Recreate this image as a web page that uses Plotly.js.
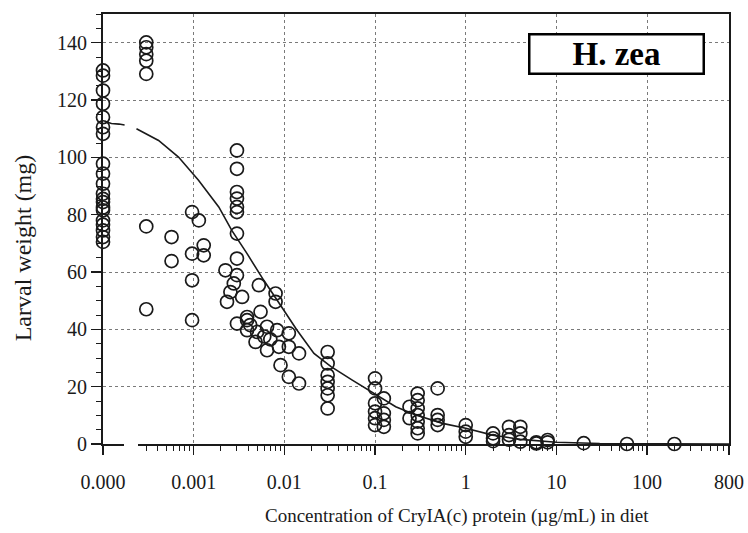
<!DOCTYPE html>
<html>
<head>
<meta charset="utf-8">
<script src="https://cdn.plot.ly/plotly-3.0.1.min.js"></script>
<style>html,body{margin:0;padding:0;background:#fff;}#chart{width:748px;height:533px;}</style>
</head>
<body>
<div id="chart"></div>
<script>
// Observed larval weights (mg) by Cry1A(c) concentration (µg/mL); control plotted at 1e-4 ("0.000")
const concX = [
  1e-4,1e-4,1e-4,1e-4,1e-4,1e-4,1e-4,1e-4,1e-4,1e-4,1e-4,1e-4,1e-4,1e-4,1e-4,1e-4,1e-4,1e-4,1e-4,1e-4,
  0.0003,0.0003,0.0003,0.0003,0.0003,0.0003,0.0003,
  0.00057,0.00057,
  0.00096,0.00096,0.00096,0.00096,0.00114,0.00129,0.00129,
  0.0030,0.0030,0.0030,0.0030,0.0030,0.0030,0.0030,0.0030,0.0030,0.0030,
  0.00224,0.00277,0.00254,0.00233,0.00342,0.00388,0.00388,0.00388,
  0.00523,0.0080,0.0080,0.00546,0.0050,0.00644,0.00644,0.00832,0.00481,0.00871,
  0.0112,0.0112,0.0112,0.0145,0.0145,0.00907,0.0042,0.0060,0.0070,
  0.03,0.03,0.03,0.03,0.03,0.03,0.03,
  0.1,0.1,0.1,0.1,0.1,0.1,0.125,0.125,0.125,0.125,
  0.295,0.295,0.295,0.295,0.295,0.295,0.295,0.24,0.24,
  0.49,0.49,0.49,0.49,
  1,1,1,
  2,2,2,
  3,3,3,
  4,4,4,
  6,6,
  8,8,
  20,60,200
];
const weightY = [
  130.3,128.5,123.3,118.7,114,110.5,108.2,97.8,94.3,90.8,87.3,85.5,84.4,82.5,81.5,78,76.5,74.5,72.2,70.5,
  140.1,138.4,136,133.7,129.1,75.9,47.0,
  72.2,63.8,
  80.9,66.4,57.1,43.2,78,69.3,65.8,
  102.4,96,87.9,85.6,82.7,80.9,73.4,64.7,58.9,42,
  60.6,56,53,49.6,51.3,43.2,39.7,44.3,
  55.4,52.5,49.6,46.1,39.1,40.9,32.7,39.7,35.6,33.9,
  38.6,33.9,23.4,31.6,21.1,27.5,41.5,37.5,36.5,
  32.1,28.1,24,21.7,19.4,17,12.4,
  22.9,19.4,14.2,11.3,9,6.6,15.9,10.7,8.4,6.0,
  17.6,15.3,12.4,10.1,7.8,5.5,3.7,13,9,
  19.4,10.1,8.4,6.6,
  6.6,4.3,2.5,
  3.7,2.0,1.0,
  6.0,3.1,1.5,
  6.0,3.7,0.8,
  0.2,0.6,
  1.4,0.6,
  0.3,0,0
];
// Fitted response curve (null = axis break)
const curveX = [1.05e-4,1.24e-4,1.5e-4,1.73e-4,null,2.34e-4,4.1e-4,6.8e-4,1.13e-3,1.89e-3,2.63e-3,3.88e-3,5.93e-3,9.07e-3,0.0138,0.0212,0.0327,0.0561,0.102,0.169,0.282,0.555,1.0,1.98,4,10,30,100,300,800];
const curveY = [112.5,111.8,111.6,111.3,null,110,105.9,100.1,92,82.7,74.5,66.4,57.1,48.4,39.7,31.6,27,22.3,17.1,13,10.1,7.2,5.5,3.1,1.6,0.6,0.2,0.05,0,0];
const xTickVals = [1e-4,1e-3,1e-2,0.1,1,10,100,800];
const xTickText = ['0.000','0.001','0.01','0.1','1','10','100','800'];
const yTickVals = [0,20,40,60,80,100,120,140];

const minorX = [];
for (let k = -4; k <= 2; k++) for (let m = 2; m <= 9; m++) { const v = m * Math.pow(10, k); if (v < 800) minorX.push(v); }

const serif = '"Liberation Serif", "Times New Roman", serif';
const ink = '#1a1a1a';

const traces = [
  {x: curveX, y: curveY, type: 'scatter', mode: 'lines', connectgaps: false,
   line: {color: ink, width: 1.6}, hoverinfo: 'skip', showlegend: false},
  {x: concX, y: weightY, type: 'scatter', mode: 'markers', cliponaxis: false,
   marker: {symbol: 'circle-open', size: 13, color: ink, line: {width: 1.7, color: ink}}, showlegend: false}
];

const layout = {
  width: 748, height: 533,
  margin: {l: 103, r: 19, t: 14, b: 89},
  paper_bgcolor: '#fff', plot_bgcolor: '#fff',
  font: {family: serif, color: ink},
  xaxis: {
    type: 'log', range: [-4, Math.log10(800)],
    tickmode: 'array', tickvals: xTickVals, ticktext: xTickText,
    ticks: 'outside', ticklen: 9, tickwidth: 1.5, tickcolor: ink,
    ticklabelstandoff: 10,
    tickfont: {family: serif, size: 20, color: ink},
    showline: true, linecolor: ink, linewidth: 2, mirror: true,
    showgrid: true, gridcolor: '#7a7a7a', gridwidth: 1, griddash: 'dot',
    zeroline: false,
    minor: {tickmode: 'array', tickvals: minorX, ticks: 'outside', ticklen: 5, tickwidth: 1, tickcolor: ink, showgrid: false}
  },
  yaxis: {
    range: [0, 150],
    tickmode: 'array', tickvals: yTickVals,
    ticks: 'outside', ticklen: 10, tickwidth: 1.5, tickcolor: ink,
    tickfont: {family: serif, size: 20, color: ink},
    showline: true, linecolor: ink, linewidth: 2, mirror: true,
    showgrid: true, gridcolor: '#7a7a7a', gridwidth: 1, griddash: 'dot',
    zeroline: false,
    minor: {dtick: 5, ticks: 'outside', ticklen: 5, tickwidth: 1, tickcolor: ink, showgrid: false}
  },
  shapes: [
    {type: 'rect', xref: 'paper', yref: 'paper', x0: 0.0335, x1: 0.0559, y0: -0.035, y1: 0.008,
     fillcolor: '#fff', line: {width: 0}, layer: 'above'}
  ],
  annotations: [
    {text: '<b>H. zea</b>', xref: 'paper', yref: 'paper', x: 0.8203, y: 0.907, showarrow: false,
     xanchor: 'center', yanchor: 'middle', width: 172, height: 37, borderpad: 0,
     bgcolor: '#fff', bordercolor: '#000', borderwidth: 2.5,
     font: {family: serif, size: 33, color: '#000'}},
    {text: 'Concentration of CryIA(c) protein (µg/mL) in diet', xref: 'paper', yref: 'paper',
     x: (457 - 103) / 626, y: -(516 - 444) / 430.7, showarrow: false, yanchor: 'middle',
     font: {family: serif, size: 19, color: ink}},
    {text: 'Larval weight (mg)', xref: 'paper', yref: 'paper', textangle: -90,
     x: -(103 - 23) / 626, y: (444 - 248) / 430.7, showarrow: false, xanchor: 'center', yanchor: 'middle',
     font: {family: serif, size: 24, color: ink}}
  ]
};

Plotly.newPlot('chart', traces, layout, {displayModeBar: false, staticPlot: true});
</script>
</body>
</html>
